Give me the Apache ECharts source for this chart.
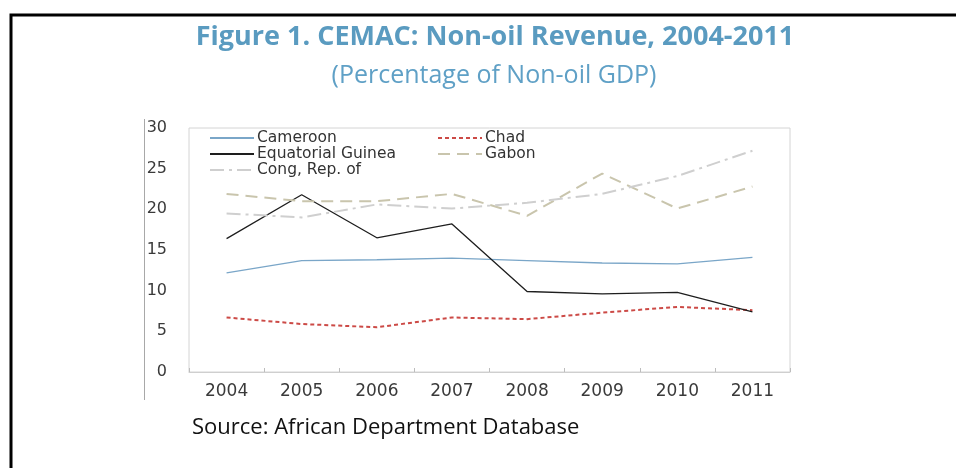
<!DOCTYPE html>
<html>
<head>
<meta charset="utf-8">
<script src="https://cdn.jsdelivr.net/npm/echarts@6/dist/echarts.min.js"></script>
<style>
  html, body { margin: 0; padding: 0; background: #fff; }
  #chart { width: 956px; height: 468px; }
</style>
</head>
<body>
<div id="chart"></div>
<script>
  // values (percent of non-oil GDP)
  var years = ['2004', '2005', '2006', '2007', '2008', '2009', '2010', '2011']
  var cameroon = [12.2, 13.7, 13.8, 14.0, 13.7, 13.4, 13.3, 14.1]
  var chad = [6.7, 5.9, 5.5, 6.7, 6.5, 7.3, 8.0, 7.6]
  var eqGuinea = [16.4, 21.8, 16.5, 18.2, 9.9, 9.6, 9.8, 7.4]
  var gabon = [21.9, 21.0, 21.0, 21.9, 19.2, 24.4, 20.1, 22.8]
  var congo = [19.5, 19.0, 20.6, 20.1, 20.8, 21.9, 24.1, 27.2]
  var yTicks = [0, 5, 10, 15, 20, 25, 30]

  var chart = echarts.init(document.getElementById('chart'))

  var txt = { fontFamily: 'DejaVu Sans', color: '#3a3a3a' }

  function legendAt(name, left, top) {
    return {
      data: [name],
      left: left,
      top: top,
      padding: 0,
      itemWidth: 44,
      itemHeight: 14,
      itemGap: 4,
      selectedMode: false,
      // hide the marker dot, keep the line sample
      itemStyle: { opacity: 0, borderWidth: 0 },
      textStyle: { fontFamily: 'DejaVu Sans', fontSize: 15.5, color: '#333', lineHeight: 16, padding: [0, 0, 0, -2] }
    }
  }

  function line(name, data, color, width, type) {
    return {
      name: name,
      type: 'line',
      data: data,
      symbol: 'none',
      silent: true,
      lineStyle: { color: color, width: width, type: type },
      itemStyle: { color: color }
    }
  }

  chart.setOption({
    animation: false,
    title: [
      {
        text: 'Figure 1. CEMAC: Non-oil Revenue, 2004-2011',
        left: 490,
        top: 19,
        textAlign: 'center',
        textStyle: { fontFamily: 'Open Sans', fontWeight: 'bold', fontSize: 27, color: '#5a9bc0' }
      },
      {
        text: '(Percentage of Non-oil GDP)',
        left: 489,
        top: 58,
        textAlign: 'center',
        textStyle: { fontFamily: 'Open Sans', fontWeight: 'normal', fontSize: 25, color: '#5fa0c6' }
      },
      {
        text: 'Source: African Department Database',
        left: 187,
        top: 412,
        textStyle: { fontFamily: 'Open Sans', fontWeight: 'normal', fontSize: 22, color: '#111' }
      }
    ],
    legend: [
      legendAt('Cameroon', 209, 130),
      legendAt('Chad', 437, 130),
      legendAt('Equatorial Guinea', 209, 146),
      legendAt('Gabon', 437, 146),
      legendAt('Cong, Rep. of', 209, 162)
    ],
    grid: {
      left: 189,
      right: 166,
      top: 128,
      bottom: 96,
      show: true,
      borderColor: '#d4d4d4',
      borderWidth: 1
    },
    xAxis: {
      type: 'category',
      data: years,
      boundaryGap: true,
      axisLine: { show: true, lineStyle: { color: '#cfcfcf' } },
      axisTick: { show: true, inside: true, length: 4, lineStyle: { color: '#bdbdbd' } },
      axisLabel: Object.assign({ margin: 11, fontSize: 17 }, txt),
      splitLine: { show: false }
    },
    yAxis: {
      type: 'value',
      min: yTicks[0],
      max: yTicks[yTicks.length - 1],
      interval: 5,
      axisLine: { show: false },
      axisTick: { show: false },
      splitLine: { show: false },
      axisLabel: Object.assign({ margin: 22, fontSize: 16 }, txt)
    },
    graphic: [
      {
        type: 'rect',
        shape: { x: 11, y: 15, width: 1000, height: 500 },
        style: { fill: 'none', stroke: '#000', lineWidth: 3 },
        silent: true
      },
      {
        type: 'line',
        shape: { x1: 144.5, y1: 119, x2: 144.5, y2: 400 },
        style: { stroke: '#a8a8a8', lineWidth: 1 },
        silent: true
      }
    ],
    series: [
      line('Cameroon', cameroon, '#7aa6c8', 1.3, 'solid'),
      line('Chad', chad, '#cc4a46', 2, [4, 3]),
      line('Equatorial Guinea', eqGuinea, '#1e1e1e', 1.3, 'solid'),
      line('Gabon', gabon, '#c9c5ad', 2, [12, 7]),
      line('Cong, Rep. of', congo, '#cfcfcf', 2, [14, 5, 3, 5])
    ]
  })
</script>
</body>
</html>
